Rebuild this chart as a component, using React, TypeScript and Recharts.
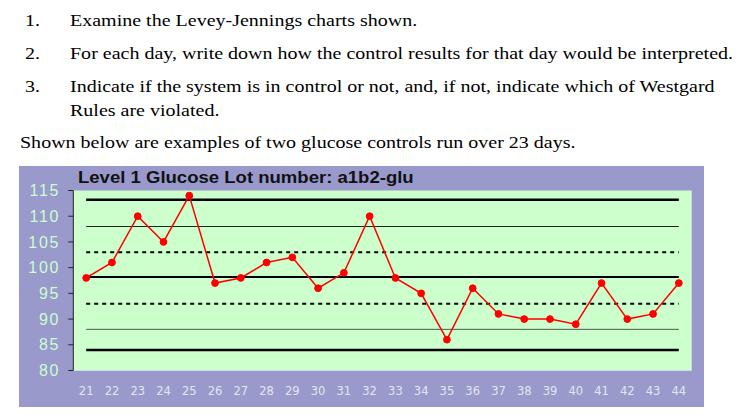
import React from 'react';
import { LineChart, XAxis, YAxis, CartesianGrid, Line, ReferenceLine } from 'recharts';

// Days run (x categories) and the Level 1 glucose control result for each day
const days = [21, 22, 23, 24, 25, 26, 27, 28, 29, 30, 31, 32, 33, 34, 35, 36, 37, 38, 39, 40, 41, 42, 43, 44];
const glucose = [98, 101, 110, 105, 114, 97, 98, 101, 102, 96, 99, 110, 98, 95, 86, 96, 91, 90, 90, 89, 97, 90, 91, 97];

// Levey-Jennings lines: +3SD, +2SD, +1SD, mean, -1SD, -2SD, -3SD
const limitLevels = [113.2, 108, 103, 98.2, 93, 88, 84];
const yTicks = [80, 85, 90, 95, 100, 105, 110, 115];

const rows = days.map((day, i) => ({ day, value: glucose[i] }));
// band edges so the tick marks sit between the day labels
const dayEdges = [...days.map(d => d - 0.5), days[days.length - 1] + 0.5];

const limitStyles = [
  { stroke: '#000', strokeWidth: 2.5 },
  { stroke: '#222', strokeWidth: 1 },
  { stroke: '#000', strokeWidth: 2, strokeDasharray: '4 4' },
  { stroke: '#000', strokeWidth: 2 },
  { stroke: '#000', strokeWidth: 2, strokeDasharray: '4 4' },
  { stroke: '#555', strokeWidth: 1 },
  { stroke: '#000', strokeWidth: 2.5 },
];

// the scanned page is a little stretched sideways, so the text is too
const textLine = (top: number, left: number): React.CSSProperties => ({
  position: 'absolute', top, left, fontFamily: "'Liberation Serif', 'Times New Roman', serif", fontSize: 17.5,
  lineHeight: 1, color: '#000', whiteSpace: 'nowrap', transform: 'scaleX(1.143)', transformOrigin: 'left top',
});

export default function App() {
  const first = days[0];
  const last = days[days.length - 1];
  return (
    <div style={{ position: 'absolute', left: 0, top: 0, width: 746, height: 419, background: '#fff', overflow: 'hidden' }}>
      <div style={textLine(12.3, 25)}>1.</div>
      <div style={textLine(12.3, 70)}>Examine the Levey-Jennings charts shown.</div>
      <div style={textLine(45.3, 25)}>2.</div>
      <div style={textLine(45.3, 70)}>For each day, write down how the control results for that day would be interpreted.</div>
      <div style={textLine(78.3, 25)}>3.</div>
      <div style={textLine(78.3, 70)}>Indicate if the system is in control or not, and, if not, indicate which of Westgard</div>
      <div style={textLine(102.3, 70)}>Rules are violated.</div>
      <div style={textLine(134.3, 20)}>Shown below are examples of two glucose controls run over 23 days.</div>

      <div style={{ position: 'absolute', left: 19, top: 166, width: 685, height: 241, background: '#9999cc' }}>
        <div style={{
          position: 'absolute', left: 59, top: 2.9, fontFamily: "'Liberation Sans', Arial, sans-serif",
          fontWeight: 'bold', fontSize: 17, lineHeight: 1, color: '#111', whiteSpace: 'nowrap',
          transform: 'scaleX(1.09)', transformOrigin: 'left top',
        }}>
          Level 1 Glucose Lot number: a1b2-glu
        </div>
        <LineChart width={685} height={241} data={rows} margin={{ top: 24.5, right: 12.3, left: 0, bottom: 0 }}>
          <CartesianGrid fill="#ccffcc" horizontal={false} vertical={false} />
          <XAxis
            xAxisId="edges" dataKey="day" type="number" domain={[first - 0.5, last + 0.5]}
            ticks={dayEdges} interval={0} tick={false} tickSize={4} height={4}
            stroke="#d4d8ec" allowDataOverflow
          />
          <XAxis
            xAxisId="labels" dataKey="day" type="number" domain={[first - 0.5, last + 0.5]}
            ticks={days} interval={0} axisLine={false} tickLine={false} height={32.5} tickMargin={6}
            tick={{ fill: '#e4e6ee', fontSize: 11.5, fontFamily: "'DejaVu Sans', sans-serif" }}
            allowDataOverflow
          />
          <YAxis
            domain={[80, 115]} ticks={yTicks} interval={0} width={54.3} tickSize={5} tickMargin={8}
            stroke="#222" allowDataOverflow
            tick={{ fill: '#ccffcc', fontSize: 16, fontFamily: "'Liberation Sans', Arial, sans-serif", letterSpacing: 1.8 }}
          />
          {limitLevels.map((lv, i) => (
            <ReferenceLine
              key={i}
              xAxisId="labels"
              segment={[{ x: first, y: lv }, { x: last, y: lv }]}
              {...limitStyles[i]}
              ifOverflow="visible"
            />
          ))}
          <Line
            xAxisId="labels" type="linear" dataKey="value" stroke="#ff0000" strokeWidth={1.5}
            dot={{ r: 3.4, fill: '#ff0000', stroke: '#ff0000', strokeWidth: 1 }}
            isAnimationActive={false}
          />
        </LineChart>
      </div>
    </div>
  );
}
